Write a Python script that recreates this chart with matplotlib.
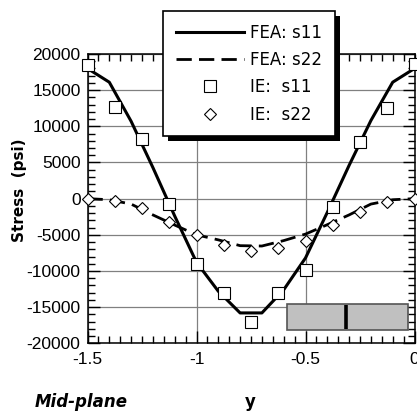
import matplotlib
matplotlib.use('Agg')
import matplotlib.pyplot as plt
from matplotlib.patches import Rectangle
import matplotlib.transforms as mtransforms
from matplotlib.ticker import MultipleLocator, FuncFormatter

# ---------------- data ----------------
fea_x = [-1.5, -1.4, -1.3, -1.2, -1.1, -1.0, -0.9, -0.8, -0.7, -0.6, -0.5, -0.4, -0.3, -0.2, -0.1, 0.0]
fea_s11 = [18000, 16100, 10700, 4300, -2400, -8800, -12800, -15800, -15800, -12600, -8200, -1900, 4600, 10800, 16100, 18000]
fea_s22 = [0, -150, -750, -2250, -3650, -5000, -5700, -6500, -6550, -5800, -4900, -3600, -2250, -750, -150, 0]

ie_x = [-1.5, -1.375, -1.25, -1.125, -1.0, -0.875, -0.75, -0.625, -0.5, -0.375, -0.25, -0.125, 0.0]
ie_s11 = [18500, 12700, 8300, -800, -9000, -13000, -17100, -13000, -9800, -1200, 7900, 12500, 18600]
ie_s22 = [-100, -330, -1250, -3280, -5030, -6420, -7200, -6790, -5860, -3650, -1810, -430, -100]

labels = ['FEA: s11', 'FEA: s22', 'IE:  s11', 'IE:  s22']
x_label = 'y'
y_label = 'Stress  (psi)'
note = 'Mid-plane'

# ---------------- figure ----------------
W, H = 417, 413
fig = plt.figure(figsize=(W / 100, H / 100), dpi=100)
ax = fig.add_axes([87.5 / W, 69.7 / H, (414.5 - 87.5) / W, (343.3 - 54) / H])
ax.set_xlim(-1.5, 0)
ax.set_ylim(-20000, 20000)

ax.xaxis.set_major_locator(MultipleLocator(0.5))
ax.xaxis.set_minor_locator(MultipleLocator(0.05))
ax.yaxis.set_major_locator(MultipleLocator(5000))
ax.yaxis.set_minor_locator(MultipleLocator(1000))

def fmt(v, p):
    if abs(v) < 1e-9:
        return '0'
    return f'{v:g}'

ax.xaxis.set_major_formatter(FuncFormatter(fmt))
ax.yaxis.set_major_formatter(FuncFormatter(fmt))
ax.tick_params(which='both', direction='in', top=True, right=True, width=1.0, color='k')
ax.tick_params(which='major', length=8.6)
ax.tick_params(which='minor', length=5)
ax.tick_params(axis='x', which='major', pad=6)
ax.tick_params(axis='y', which='major', pad=5)
for lab in ax.get_xticklabels() + ax.get_yticklabels():
    lab.set_fontfamily('Liberation Sans')
    lab.set_fontsize(12.5)
for s in ax.spines.values():
    s.set_linewidth(1.1)
ax.grid(which='major', color='#808080', lw=0.9)
ax.set_axisbelow(True)

ax.plot(fea_x, fea_s11, color='k', lw=2.2, zorder=3, label=labels[0])
ax.plot(fea_x, fea_s22, color='k', lw=2.0, ls=(0, (5.5, 2.6)), zorder=3, label=labels[1])
ax.plot(ie_x, ie_s11, ls='none', marker='s', ms=8.4, mfc='white', mec='k', mew=0.8,
        zorder=4, clip_on=False, label=labels[2])
ax.plot(ie_x, ie_s22, ls='none', marker='D', ms=5.8, mfc='white', mec='k', mew=0.8,
        zorder=4, clip_on=False, label=labels[3])

# inset schematic
ax.add_patch(Rectangle((-0.585, -18170), 0.5566, 3595, facecolor='#c0c0c0',
                       edgecolor='#555555', lw=1.2, zorder=4.5))
ax.plot([-0.314, -0.314], [-18000, -14750], color='k', lw=2.6, zorder=4.6,
        solid_capstyle='butt')

leg = ax.legend(loc='upper left', bbox_to_anchor=(163 / W, 1 - 11 / H),
                bbox_transform=fig.transFigure, borderaxespad=0, fancybox=False,
                edgecolor='k', framealpha=1, prop={'family': 'DejaVu Sans', 'size': 12},
                handlelength=4.08, handletextpad=0.42, labelspacing=0.56, borderpad=0.75)
leg.get_frame().set_linewidth(1.2)
leg.set_zorder(6)

fig.text(20 / W, 1 - 190.5 / H, y_label, rotation=90, ha='center', va='center',
         fontfamily='DejaVu Sans', fontweight='bold', fontsize=11)
fig.text(35 / W, 1 - 406.7 / H, note, ha='left', va='baseline',
         fontfamily='DejaVu Sans', fontweight='bold', fontstyle='italic', fontsize=12)
fig.text(250 / W, 1 - 406.7 / H, x_label, ha='center', va='baseline',
         fontfamily='DejaVu Sans', fontweight='bold', fontsize=12)

fig.canvas.draw()
bb = leg.get_window_extent()
shadow = Rectangle((bb.x0 + 5, bb.y0 - 5), bb.width, bb.height,
                   transform=mtransforms.IdentityTransform(), facecolor='k',
                   edgecolor='none', zorder=5.9, clip_on=False)
ax.add_artist(shadow)

fig.savefig('out.png', dpi=100)
